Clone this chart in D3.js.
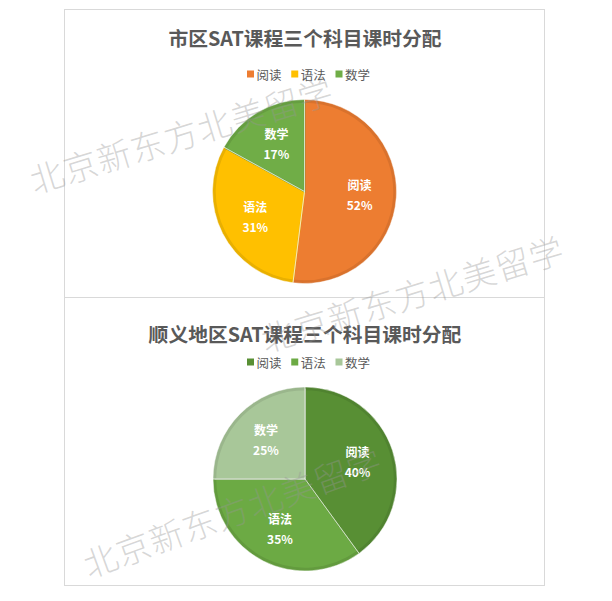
<!DOCTYPE html>
<html><head><meta charset="utf-8">
<script src="https://cdn.jsdelivr.net/npm/d3@7"></script>
<style>
html,body{margin:0;padding:0;background:#fff;}
svg{display:block;}
</style></head>
<body>
<script>
const categories = ["阅读", "语法", "数学"];
const cityValues = [52, 31, 17];
const shunyiValues = [40, 35, 25];
const cityTitle = "市区SAT课程三个科目课时分配";
const shunyiTitle = "顺义地区SAT课程三个科目课时分配";
const cityColors = ["#ED7D31", "#FFC000", "#70AD47"];
const shunyiColors = ["#588F34", "#6CAA44", "#A8C799"];
const watermarkText = "北京新东方北美留学";

const W = 612, H = 601;
const FONT = "'Noto Sans CJK SC','Noto Sans',sans-serif";
const svg = d3.select("body").append("svg").attr("width", W).attr("height", H);
svg.append("rect").attr("width", W).attr("height", H).attr("fill", "#fff");

function drawPanel(y0, h, title, values, colors, cfg) {
  const g = svg.append("g");
  g.append("rect").attr("x", 64.5).attr("y", y0 + 0.5).attr("width", 480).attr("height", h)
    .attr("fill", "#fff").attr("stroke", "#d9d9d9").attr("stroke-width", 1);
  g.append("text").attr("x", 305).attr("y", cfg.titleY).attr("text-anchor", "middle")
    .attr("dominant-baseline", "central")
    .attr("font-family", FONT).attr("font-weight", 700).attr("font-size", "19.8px")
    .attr("fill", "#595959").text(title);

  // legend
  const legendX = d3.scalePoint().domain(categories).range([247, 335.5]);
  const lg = g.append("g");
  categories.forEach((c, i) => {
    const x = legendX(c);
    lg.append("rect").attr("x", x).attr("y", cfg.legendY - 3.5).attr("width", 7).attr("height", 7)
      .attr("fill", colors[i]);
    lg.append("text").attr("x", x + 9.5).attr("y", cfg.legendY).attr("dominant-baseline", "central")
      .attr("font-family", FONT).attr("font-size", "12.5px").attr("fill", "#595959").text(c);
  });

  const data = categories.map((c, i) => ({ name: c, value: values[i], color: colors[i] }));
  const pie = d3.pie().sort(null).value(d => d.value);
  const arcs = pie(data);
  const r = 92;
  const arc = d3.arc().innerRadius(0).outerRadius(r);
  const innerArc = d3.arc().innerRadius(0).outerRadius(r - 2.5);
  const labelArc = d3.arc().innerRadius(r * 0.6).outerRadius(r * 0.6);
  const pg = g.append("g").attr("transform", `translate(${cfg.cx},${cfg.cy})`);
  pg.selectAll("path.edge").data(arcs).join("path").attr("class", "edge")
    .attr("d", arc).attr("fill", d => d3.color(d.data.color).darker(0.25));
  pg.selectAll("path.face").data(arcs).join("path").attr("class", "face")
    .attr("d", innerArc).attr("fill", d => d.data.color)
    .attr("stroke", d => d3.color(d.data.color).darker(0.25)).attr("stroke-width", 1.5);
  pg.selectAll("path.sep").data(arcs).join("path").attr("class", "sep")
    .attr("d", arc).attr("fill", "none").attr("stroke", "rgba(255,255,255,0.45)").attr("stroke-width", 1);
  const lab = pg.selectAll("g.lab").data(arcs).join("g").attr("class", "lab")
    .attr("transform", d => { const [x, y] = labelArc.centroid(d); return `translate(${x},${y})`; });
  lab.append("text").attr("y", -10).attr("text-anchor", "middle").attr("dominant-baseline", "central")
    .attr("font-family", FONT).attr("font-weight", 700).attr("font-size", "12px").attr("fill", "#fff")
    .text(d => d.data.name);
  lab.append("text").attr("y", 10).attr("text-anchor", "middle").attr("dominant-baseline", "central")
    .attr("font-family", FONT).attr("font-weight", 700).attr("font-size", "12px").attr("fill", "#fff")
    .text(d => d.data.value + "%");
}

drawPanel(9, 288, cityTitle, cityValues, cityColors, { titleY: 37, legendY: 74, cx: 304.5, cy: 191.5 });
drawPanel(297, 288, shunyiTitle, shunyiValues, shunyiColors, { titleY: 333, legendY: 362, cx: 305, cy: 479 });

// watermarks
const marks = [
  { x: 181, y: 134, a: -17 },
  { x: 412, y: 293, a: -17 },
  { x: 232, y: 511, a: -20 }
];
svg.append("g").selectAll("text").data(marks).join("text")
  .attr("transform", d => `translate(${d.x},${d.y}) rotate(${d.a})`)
  .attr("text-anchor", "middle").attr("dominant-baseline", "central")
  .attr("font-family", FONT).attr("font-weight", 300).attr("font-size", "34px")
  .attr("letter-spacing", "1px")
  .attr("fill", "rgba(150,150,150,0.38)").text(watermarkText);
</script>
</body></html>
